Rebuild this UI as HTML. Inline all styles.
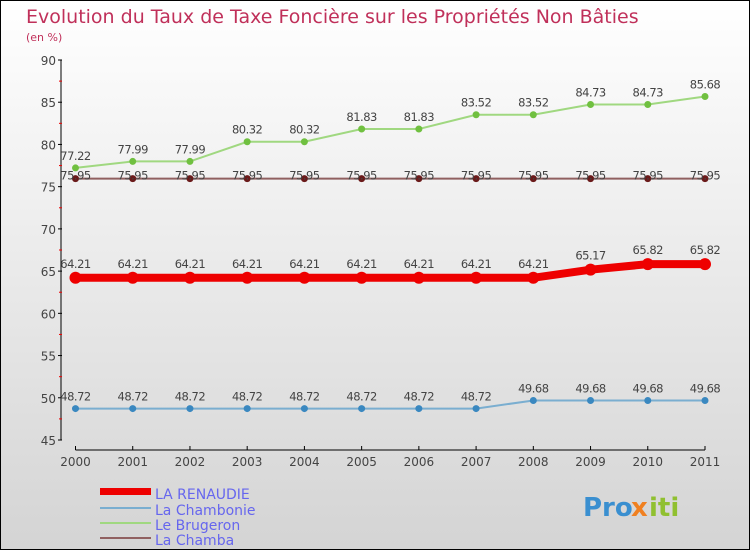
<!DOCTYPE html>
<html><head><meta charset="utf-8"><style>
body{margin:0;width:750px;height:550px;overflow:hidden;font-family:"DejaVu Sans","Liberation Sans",sans-serif}
</style></head><body>
<svg id="c" width="750" height="550" xmlns="http://www.w3.org/2000/svg">
<defs><linearGradient id="bg" x1="0" y1="0" x2="0" y2="1"><stop offset="0" stop-color="#ffffff"/><stop offset="1" stop-color="#d4d4d4"/></linearGradient></defs>
<rect x="0.5" y="0.5" width="749" height="549" fill="url(#bg)" stroke="#000"/>
<text x="26" y="23" font-size="19" fill="#c0305a">Evolution du Taux de Taxe Foncière sur les Propriétés Non Bâties</text>
<text x="26" y="41" font-size="11" fill="#c0305a">(en %)</text>
<g id="axes"></g><g id="series"></g>
<g>
<rect x="100" y="488" width="51" height="7" fill="#e00"/>
<text x="155" y="499" font-size="14" fill="#6666ee">LA RENAUDIE</text>
<line x1="100" y1="508" x2="151" y2="508" stroke="#7aaed0" stroke-width="2"/>
<text x="155" y="515" font-size="14" fill="#6666ee">La Chambonie</text>
<line x1="100" y1="523" x2="151" y2="523" stroke="#a0d880" stroke-width="2"/>
<text x="155" y="530" font-size="14" fill="#6666ee">Le Brugeron</text>
<line x1="100" y1="538" x2="151" y2="538" stroke="#906060" stroke-width="2"/>
<text x="155" y="545" font-size="14" fill="#6666ee">La Chamba</text>
</g>
<g font-size="26" font-weight="bold">
<text x="583" y="516" fill="#3a8fd0">Pro</text><text x="631" y="516" fill="#f08020">x</text><text x="649" y="516" fill="#90c030">iti</text>
</g>
</svg>
<script>
const years=["2000","2001","2002","2003","2004","2005","2006","2007","2008","2009","2010","2011"];
const yTicks=[45,50,55,60,65,70,75,80,85,90];
const renaudie=[64.21,64.21,64.21,64.21,64.21,64.21,64.21,64.21,64.21,65.17,65.82,65.82];
const chambonie=[48.72,48.72,48.72,48.72,48.72,48.72,48.72,48.72,49.68,49.68,49.68,49.68];
const brugeron=[77.22,77.99,77.99,80.32,80.32,81.83,81.83,83.52,83.52,84.73,84.73,85.68];
const chamba=[75.95,75.95,75.95,75.95,75.95,75.95,75.95,75.95,75.95,75.95,75.95,75.95];
const NS="http://www.w3.org/2000/svg";
const X=i=>75.5+i*(705-75.5)/(years.length-1);
const Y=v=>440-(v-45)*(380/45);
function mk(t,a,p){const e=document.createElementNS(NS,t);for(const k in a)e.setAttribute(k,a[k]);p.appendChild(e);return e;}
const ax=document.getElementById('axes');
let yl=mk('line',{x1:61,y1:60,x2:61,y2:440,stroke:'#000'},ax);


let xl=mk('line',{x1:75.5,y1:450,x2:705,y2:450,stroke:'#000'},ax);


yTicks.forEach((v,i)=>{mk('line',{x1:58,y1:Y(v),x2:62,y2:Y(v),stroke:'#000'},ax);
 if(i<yTicks.length-1)mk('line',{x1:59,y1:Y(v+2.5),x2:62,y2:Y(v+2.5),stroke:'#e00'},ax);
 const t=mk('text',{x:56,y:Y(v)+5,'font-size':12,'text-anchor':'end',fill:'#444'},ax);t.textContent=v;
 
 });
years.forEach((y,i)=>{mk('line',{x1:X(i),y1:446,x2:X(i),y2:450,stroke:'#000'},ax);
 const t=mk('text',{x:X(i),y:466,'font-size':12,'text-anchor':'middle',fill:'#444'},ax);t.textContent=y;
 
 });
const sg=document.getElementById('series');
function series(d,name,col,dot,w,r,lab){
 const g=mk('g',{},sg);
 
 
 mk('polyline',{points:d.map((v,i)=>X(i)+','+Y(v)).join(' '),fill:'none',stroke:col,'stroke-width':w},g);
 d.forEach((v,i)=>{const c=mk('circle',{cx:X(i),cy:Y(v),r:r,fill:dot},g);
  
  
  const t=mk('text',{x:X(i),y:Y(v)-lab,'font-size':11.5,'text-anchor':'middle',fill:'#444','letter-spacing':'-0.5'},g);t.textContent=v.toFixed(2);
  
  });
}
series(chamba,'la-chamba','#906060','#6a1a1a',2,3.5,-1);
series(brugeron,'le-brugeron','#a0d880','#70c040',2,3.5,8);
series(chambonie,'la-chambonie','#7aaed0','#3a88c0',2,3.5,8);
series(renaudie,'la-renaudie','#e00','#e00',8,6,10);
</script>
</body></html>
